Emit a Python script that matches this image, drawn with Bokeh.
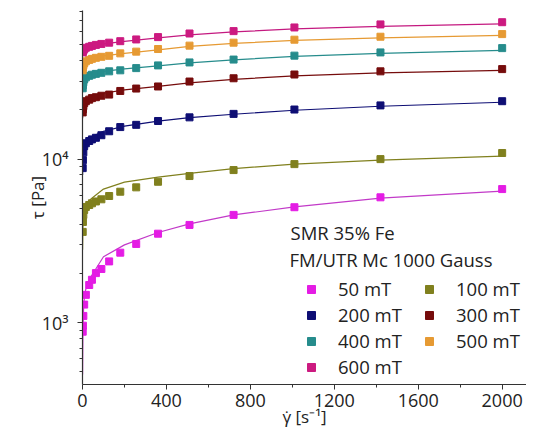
from bokeh.plotting import figure
from bokeh.models import Range1d, FixedTicker, Legend, LegendItem, Label
from bokeh.embed import file_html
from bokeh.resources import INLINE

# ---- data ----
series_labels = ["50 mT", "100 mT", "200 mT", "300 mT", "400 mT", "500 mT", "600 mT"]
series_colors = ["#E41CE4", "#80801E", "#0E0E74", "#760C0C", "#268C8C", "#E69A33", "#CC1A80"]
line_colors = ["#C23AC8", "#80801E", "#0E0E74", "#760C0C", "#268C8C", "#E69A33", "#C41A80"]
legend_order = ["50 mT", "200 mT", "400 mT", "600 mT", "100 mT", "300 mT", "500 mT"]

shear = [1, 2, 4, 8, 16, 32, 45, 64, 90, 127, 180, 256, 360, 510, 720, 1010, 1420, 2000]

tau_50 = [881, 959, 1100, 1290, 1480, 1700, 1830, 2010, 2130, 2370, 2680, 3030, 3500, 3960, 4560, 5080, 5840, 6560]
tau_100 = [3590, 4130, 4560, 4890, 5100, 5240, 5370, 5510, 5680, 5950, 6320, 6720, 7270, 7880, 8570, 9320, 10000, 10900]
tau_200 = [8810, 9860, 11000, 12000, 12500, 12900, 13200, 13500, 14000, 14800, 15700, 16200, 17100, 18000, 18900, 20100, 21300, 22600]
tau_300 = [19300, 20200, 21100, 22000, 22600, 23100, 23600, 23900, 24400, 24800, 26100, 27000, 27800, 29800, 31200, 32900, 34400, 35500]
tau_400 = [27100, 28300, 29500, 30700, 31600, 32300, 32800, 33200, 33700, 34400, 34900, 36000, 37400, 39000, 40600, 42900, 44900, 47700]
tau_500 = [34900, 36400, 37400, 38500, 39600, 40400, 41000, 41600, 42200, 42800, 44300, 45400, 47100, 49400, 51500, 53700, 56000, 58100]
tau_600 = [44900, 45600, 46300, 46900, 47900, 48600, 49200, 49900, 50600, 51500, 52600, 53900, 55700, 58600, 60600, 63800, 66600, 68700]

fit_shear = [0.5, 2, 6, 15, 40, 100, 200, 360, 510, 720, 1010, 1420, 2000]
fit_50 = [482, 907, 1320, 1590, 1910, 2530, 2990, 3560, 4020, 4560, 5100, 5780, 6380]
fit_100 = [2790, 3800, 4560, 5030, 5700, 6560, 7240, 7770, 8180, 8750, 9320, 9860, 10430]
fit_200 = [7990, 10140, 11670, 12700, 13620, 14810, 15900, 17050, 17910, 18810, 19900, 21050, 22260]
fit_300 = [17780, 20460, 21950, 22900, 23880, 25260, 26530, 27870, 29280, 30740, 32290, 33680, 34890]
fit_400 = [25620, 28660, 30740, 31840, 32990, 34400, 35630, 37170, 38770, 40430, 42460, 44290, 46200]
fit_500 = [32990, 36920, 39040, 40140, 41290, 42770, 44290, 46530, 48870, 50980, 53170, 55070, 57030]
fit_600 = [43070, 45550, 46850, 47860, 48870, 50620, 52420, 55070, 57430, 59910, 62480, 64710, 67040]

x_ticks = [0, 400, 800, 1200, 1600, 2000]
x_minor_ticks = [200, 600, 1000, 1400, 1800]
y_ticks = [1000, 10000]
y_tick_labels = {1000: "10³", 10000: "10⁴"}
y_minor_ticks = [500, 600, 700, 800, 900, 2000, 3000, 4000, 5000, 6000, 7000, 8000, 9000,
                 20000, 30000, 40000, 50000, 60000, 70000, 80000]

legend_title_1 = "SMR 35% Fe"
legend_title_2 = "FM/UTR Mc 1000 Gauss"
x_label = "γ̇ [s⁻¹]"
y_label = "τ [Pa]"

taus = [tau_50, tau_100, tau_200, tau_300, tau_400, tau_500, tau_600]
fits = [fit_50, fit_100, fit_200, fit_300, fit_400, fit_500, fit_600]

FONT = "Open Sans"
TXT = "#222222"

p = figure(width=526, height=430, output_backend="svg", toolbar_location=None,
           y_axis_type="log",
           x_range=Range1d(0, 2116), y_range=Range1d(419, 81000),
           min_border_left=82, min_border_right=0, min_border_top=10, min_border_bottom=42)
p.outline_line_color = None
p.xgrid.visible = False
p.ygrid.visible = False

for fit, lc in zip(fits, line_colors):
    p.line(fit_shear, fit, line_color=lc, line_width=1.2)
renderers = {}
for lab, tau, c in zip(series_labels, taus, series_colors):
    renderers[lab] = p.scatter(shear, tau, marker="square", size=7, fill_color=c, line_color=c)

for ax in (p.xaxis[0], p.yaxis[0]):
    ax.axis_line_color = "#333333"
    ax.axis_line_width = 1.2
    ax.major_tick_line_color = "#333333"
    ax.minor_tick_line_color = "#333333"
    ax.major_tick_out = 5
    ax.major_tick_in = 0
    ax.minor_tick_out = 3
    ax.minor_tick_in = 0
    ax.major_label_text_font = FONT
    ax.major_label_text_font_size = "18px"
    ax.major_label_text_color = TXT
    ax.axis_label_text_font = FONT
    ax.axis_label_text_font_size = "17px"
    ax.axis_label_text_font_style = "normal"
    ax.axis_label_text_color = TXT

p.xaxis[0].ticker = FixedTicker(ticks=x_ticks, minor_ticks=x_minor_ticks)
p.yaxis[0].ticker = FixedTicker(ticks=y_ticks, minor_ticks=y_minor_ticks)
p.yaxis[0].major_label_overrides = y_tick_labels
p.xaxis[0].axis_label = x_label
p.yaxis[0].axis_label = y_label
p.xaxis[0].major_label_standoff = 4
p.yaxis[0].major_label_standoff = 9
p.xaxis[0].axis_label_standoff = -5
p.yaxis[0].axis_label_standoff = -10

items = [LegendItem(label=lab, renderers=[renderers[lab]]) for lab in legend_order]
legend = Legend(items=items, ncols=2, location=(219, 5),
                label_text_font=FONT, label_text_font_size="18.5px", label_text_color=TXT,
                glyph_width=20, glyph_height=20, label_height=20, label_width=80,
                label_standoff=17, spacing=1, padding=0, margin=0,
                border_line_color=None, background_fill_alpha=0)
p.add_layout(legend)

p.add_layout(Label(x=208, y=152, x_units="screen", y_units="screen", text=legend_title_1,
                   text_font=FONT, text_font_size="18.5px", text_color=TXT,
                   text_baseline="middle"))
p.add_layout(Label(x=207, y=125, x_units="screen", y_units="screen", text=legend_title_2,
                   text_font=FONT, text_font_size="18.5px", text_color=TXT,
                   text_baseline="middle"))

open("out.html", "w").write(file_html(p, INLINE))
